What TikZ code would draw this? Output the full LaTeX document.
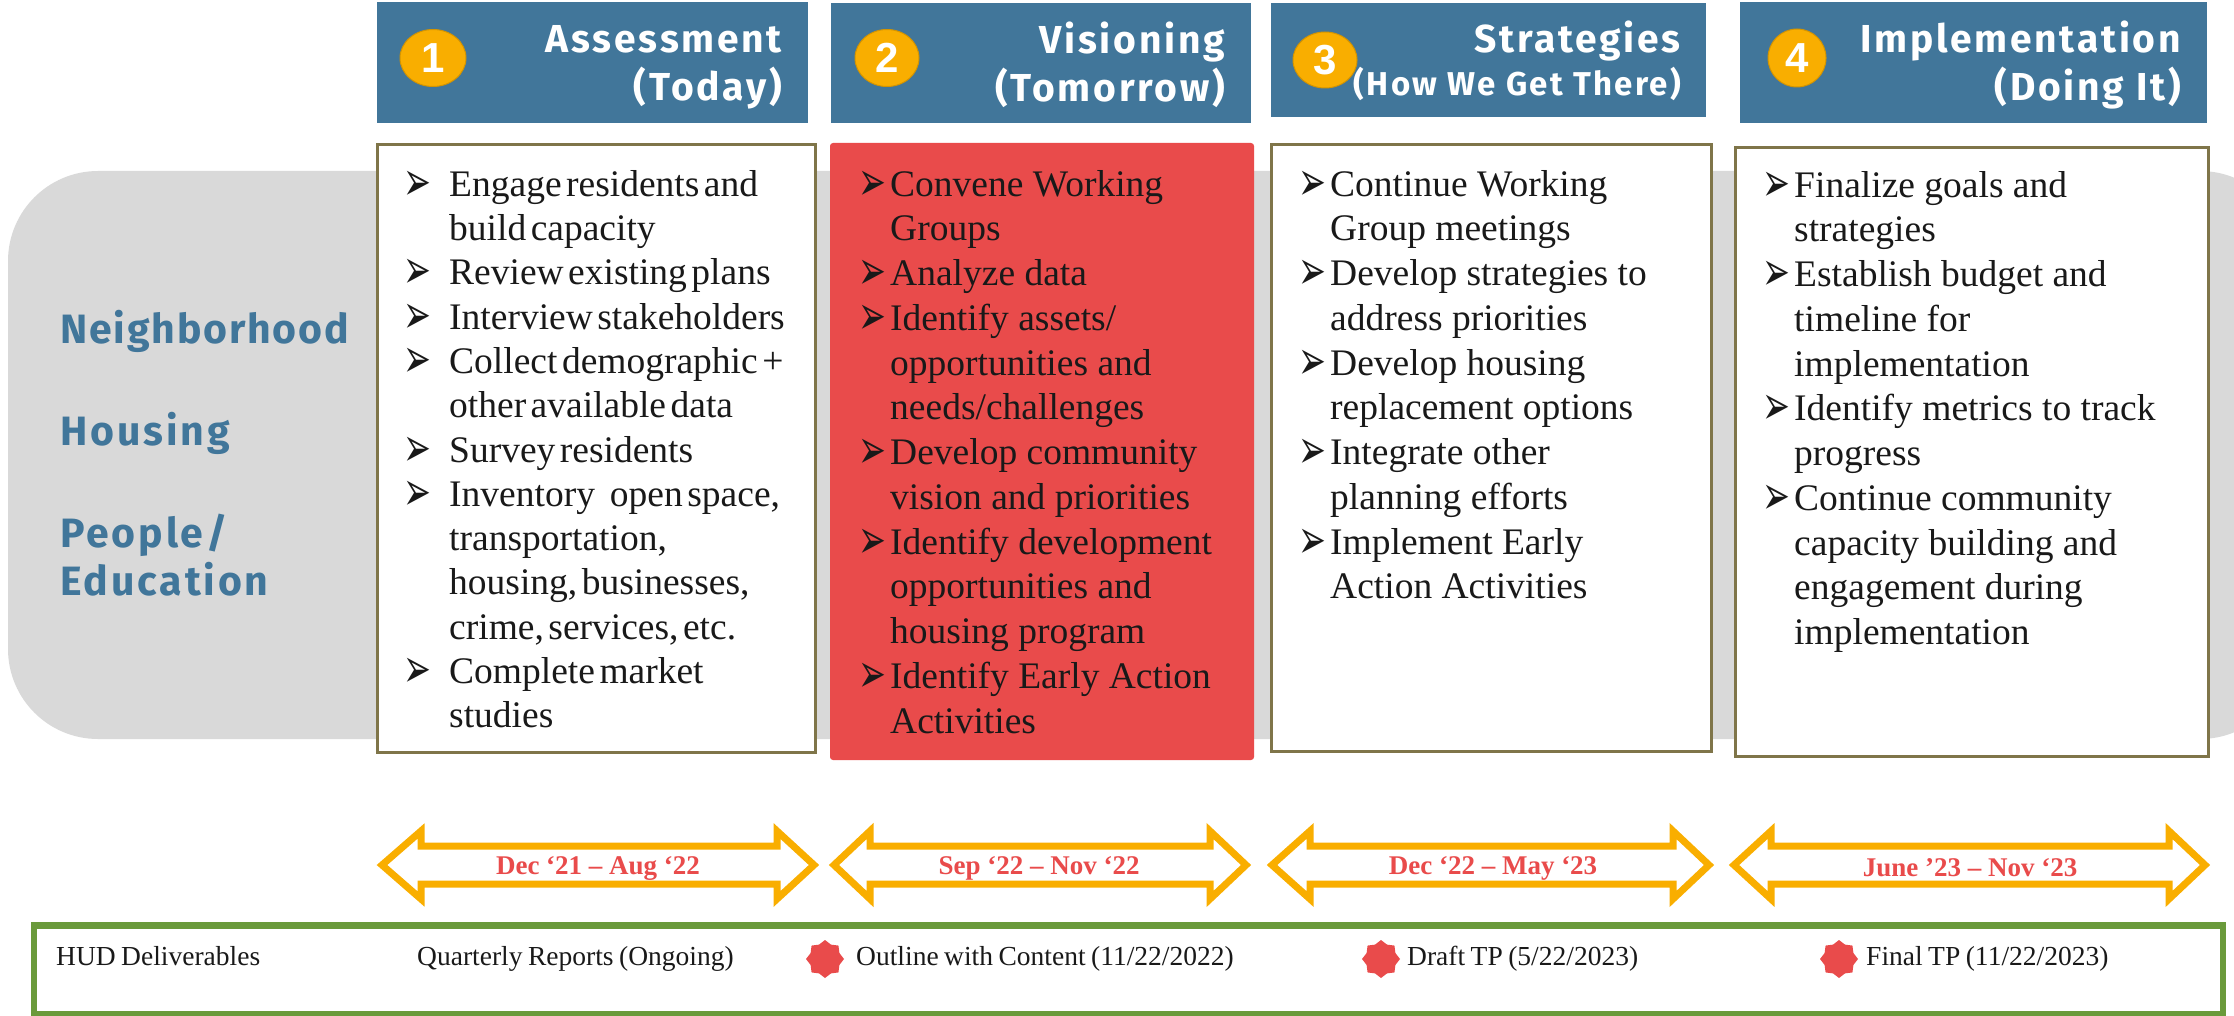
\documentclass[tikz,border=0pt]{standalone}
\usepackage{fontspec}
\setmainfont{Liberation Serif}
\newfontfamily\hdfont[LetterSpace=7]{Fira Sans}
\newfontfamily\sidefont[LetterSpace=7]{Fira Sans}
\newfontfamily\sidefontb[LetterSpace=4.5]{Fira Sans}
\newfontfamily\numfont{Liberation Sans}
\newfontfamily\bulfont{DejaVu Sans}
\usetikzlibrary{shapes.geometric}
\definecolor{hdblue}{HTML}{41769A}
\definecolor{olive}{HTML}{7F7549}
\definecolor{redbx}{HTML}{E94B4B}
\definecolor{greybg}{HTML}{D9D9D9}
\definecolor{ambr}{HTML}{F9AE00}
\definecolor{grn}{HTML}{6A9A3B}
\newcommand{\bodyf}{\fontsize{37.5}{44.75}\selectfont}
\newcommand{\bodyfa}{\fontsize{37.5}{44.3}\selectfont\spaceskip=.12em\relax}
\newcommand{\delivf}{\fontsize{27.5}{30}\selectfont\spaceskip=.2em\relax}
\newcommand{\hdf}{\hdfont\bfseries\fontsize{39}{48}\selectfont}
\newcommand{\bl}[1][14pt]{\rule{0pt}{30pt}\makebox[0pt][r]{\bulfont\fontsize{29}{30}\selectfont\raisebox{-4pt}{\scalebox{1.15}[1.9]{➢}}\hspace{#1}}}
\newcommand{\hs}{\rule{0pt}{40pt}}
\tikzset{
  x=1pt,y=-1pt,
  hdr/.style={fill=hdblue,anchor=north west,inner sep=0,outer sep=0},
  bx/.style={draw=olive,line width=3pt,fill=white,anchor=north west,inner sep=0,outer sep=0},
  redb/.style={fill=redbx,rounded corners=3pt,anchor=north west,inner sep=0,outer sep=0},
  hdtxt/.style={text=white,font=\hdf,align=right,anchor=north east,inner sep=0},
  bodyt/.style={font=\bodyf,align=left,anchor=north west,inner sep=0,text=black!90},
  num/.style={ellipse,fill=ambr,draw=ambr!85!black,line width=1pt,inner sep=0,text=white,font=\numfont\bfseries\fontsize{42}{42}\selectfont},
  side/.style={text=hdblue,font=\sidefont\bfseries\fontsize{41}{48}\selectfont,anchor=base west,inner sep=0},
  arw/.style={draw=ambr,line width=7pt,fill=white,line join=miter},
  dateT/.style={text=redbx,font=\bfseries\fontsize{27}{29}\selectfont,inner sep=0},
  deliv/.style={font=\delivf,anchor=base west,inner sep=0,text=black!90},
  seal/.style={star,star points=8,star point ratio=1.22,minimum size=38pt,fill=redbx,inner sep=0},
}
\begin{document}
\begin{tikzpicture}
\useasboundingbox (0,0) rectangle (2234,1016);
\begin{scope}
\clip (0,0) rectangle (2234,1016);
\fill[greybg,rounded corners=90pt] (8,171) rectangle (2290,739);
\end{scope}
% headers
\node[hdr,minimum width=431,minimum height=121] (h1) at (377,2) {};
\node[hdr,minimum width=420,minimum height=120] (h2) at (831,3) {};
\node[hdr,minimum width=435,minimum height=114] (h3) at (1271,3) {};
\node[hdr,minimum width=467,minimum height=121] (h4) at (1740,2) {};
\node[hdtxt] (t1) at (782,12) {\hs Assessment\\(Today)};
\node[hdtxt] (t2) at (1225,13) {\hs Visioning\\(Tomorrow)};
\node[hdtxt] (t3) at (1681,12) {\hs Strategies\\[-5pt]{\fontsize{33}{36}\selectfont (How We Get There)}};
\node[hdtxt] (t4) at (2181,12) {\hs Implementation\\(Doing It)};
\node[num,minimum width=66,minimum height=57] (n1) at (433,58) {1};
\node[num,minimum width=64,minimum height=57] (n2) at (887,58) {2};
\node[num,minimum width=64,minimum height=56] (n3) at (1325,60) {3};
\node[num,minimum width=58,minimum height=58] (n4) at (1797,58) {4};
% boxes
\node[bx,minimum width=438,minimum height=607] (b1) at (377,145) {};
\node[redb,minimum width=424,minimum height=617] (b2) at (830,143) {};
\node[bx,minimum width=440,minimum height=606] (b3) at (1271,145) {};
\node[bx,minimum width=473,minimum height=608] (b4) at (1735,148) {};
\node[bodyt,font=\bodyfa] (l1) at (449,166) {\bl[18pt]Engage residents and\\build capacity\\\bl[18pt]Review existing plans\\\bl[18pt]Interview stakeholders\\\bl[18pt]Collect demographic +\\other available data\\\bl[18pt]Survey residents\\\bl[18pt]Inventory\hspace{.4em}open space,\\transportation,\\housing, businesses,\\crime, services, etc.\\\bl[18pt]Complete market\\studies};
\node[bodyt] (l2) at (890,166) {\bl[4pt]Convene Working\\Groups\\\bl[4pt]Analyze data\\\bl[4pt]Identify assets/\\opportunities and\\needs/challenges\\\bl[4pt]Develop community\\vision and priorities\\\bl[4pt]Identify development\\opportunities and\\housing program\\\bl[4pt]Identify Early Action\\Activities};
\node[bodyt] (l3) at (1330,166) {\bl[4pt]Continue Working\\Group meetings\\\bl[4pt]Develop strategies to\\address priorities\\\bl[4pt]Develop housing\\replacement options\\\bl[4pt]Integrate other\\planning efforts\\\bl[4pt]Implement Early\\Action Activities};
\node[bodyt] (l4) at (1794,167) {\bl[4pt]Finalize goals and\\strategies\\\bl[4pt]Establish budget and\\timeline for\\implementation\\\bl[4pt]Identify metrics to track\\progress\\\bl[4pt]Continue community\\capacity building and\\engagement during\\implementation};
% side labels
\node[side,font=\sidefontb\bfseries\fontsize{41}{48}\selectfont] (s1) at (60,343) {Neighborhood};
\node[side] (s2) at (60,445) {Housing};
\node[side] (s3) at (60,547) {People/};
\node[side] (s4) at (60,595) {Education};
% arrows
\draw[arw] (382,865) -- (421,831) -- (421,846) -- (777,846) -- (777,831) -- (814,865) -- (777,899) -- (777,884) -- (421,884) -- (421,899) -- cycle;
\draw[arw] (834,865) -- (870,831) -- (870,846) -- (1210,846) -- (1210,831) -- (1246,865) -- (1210,899) -- (1210,884) -- (870,884) -- (870,899) -- cycle;
\draw[arw] (1272,865) -- (1310,831) -- (1310,846) -- (1673,846) -- (1673,831) -- (1709,865) -- (1673,899) -- (1673,884) -- (1310,884) -- (1310,899) -- cycle;
\draw[arw] (1734,865) -- (1771,831) -- (1771,846) -- (2169,846) -- (2169,831) -- (2205,865) -- (2169,899) -- (2169,884) -- (1771,884) -- (1771,899) -- cycle;
\node[dateT] (d1) at (598,868) {Dec ‘21 – Aug ‘22};
\node[dateT] (d2) at (1039,868) {Sep ‘22 – Nov ‘22};
\node[dateT] (d3) at (1493,868) {Dec ‘22 – May ‘23};
\node[dateT] (d4) at (1970,868) {June ’23 – Nov ‘23};
% deliverables
\node[draw=grn,line width=6.5pt,fill=white,anchor=north west,inner sep=0,outer sep=0,minimum width=2189,minimum height=88.5] (g) at (34,925.5) {};
\node[deliv] (e1) at (56,965) {HUD Deliverables};
\node[deliv] (e2) at (417,965) {Quarterly Reports (Ongoing)};
\node[seal] (st1) at (825,959) {};
\node[deliv] (e3) at (856,965) {Outline with Content (11/22/2022)};
\node[seal] (st2) at (1381,959) {};
\node[deliv] (e4) at (1407,965) {Draft TP (5/22/2023)};
\node[seal] (st3) at (1839,959) {};
\node[deliv] (e5) at (1866,965) {Final TP (11/22/2023)};
\end{tikzpicture}
\end{document}
